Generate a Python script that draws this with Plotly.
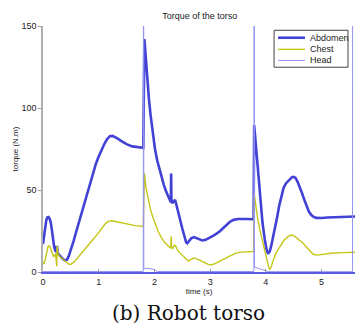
import plotly.graph_objects as go

# ---- data ----
abd_t = [0.0, 0.02, 0.04, 0.06, 0.08, 0.10, 0.12, 0.14, 0.16, 0.18, 0.20, 0.22, 0.24, 0.25, 0.26,
         0.28, 0.30, 0.33, 0.36, 0.40, 0.43, 0.46, 0.50, 0.55, 0.60, 0.70, 0.80, 0.90, 0.95,
         1.00, 1.05, 1.10, 1.15, 1.20, 1.25, 1.30, 1.35, 1.40, 1.50, 1.60, 1.70, 1.80,
         1.82, 1.84, 1.87, 1.90, 1.93, 1.97, 2.01, 2.05, 2.09, 2.13, 2.17, 2.21, 2.25, 2.28,
         2.295, 2.30, 2.305, 2.32, 2.35, 2.37, 2.39, 2.42, 2.46, 2.50, 2.54, 2.57, 2.59, 2.62,
         2.66, 2.71, 2.76, 2.81, 2.86, 2.92, 3.00, 3.09, 3.18, 3.27, 3.35, 3.42, 3.50, 3.65, 3.78,
         3.79, 3.81, 3.84, 3.87, 3.90, 3.94, 3.98, 4.01, 4.04, 4.07, 4.10, 4.13, 4.16, 4.20,
         4.24, 4.28, 4.32, 4.36, 4.40, 4.44, 4.47, 4.50, 4.53, 4.57, 4.61, 4.65, 4.69, 4.73,
         4.77, 4.81, 4.85, 4.90, 4.95, 5.00, 5.10, 5.25, 5.40, 5.60]
abd_v = [17, 23, 28.5, 31.8, 33.3, 33.5, 32.5, 30, 25.5, 20, 15.5, 13, 12.3, 16, 12,
         10.8, 10, 8.8, 7.8, 7, 7.5, 9.5, 13.5, 19, 25, 37, 49, 60.5, 66,
         70.5, 74.5, 78, 81, 82.8, 83, 82.3, 81.2, 80, 78, 76.6, 76, 75.8,
         142, 132, 118, 106, 96, 85, 75, 68, 62.5, 58, 53, 49, 45.5, 43.5,
         42.5, 60, 44, 42, 43, 44, 41.5, 38, 32, 26.5, 21, 18, 17.5, 19,
         20.5, 21.3, 20.6, 19.5, 19.2, 19.6, 21, 22.8, 25, 28, 30.5, 31.8, 32.3, 32.3, 32.2,
         89.6, 82, 68, 55, 43, 30, 20, 14, 11.1, 12.5, 16.5, 21, 26, 33,
         40.5, 47, 51.5, 54, 55.5, 56.5, 57.8, 58, 57.5, 55, 52, 48, 44, 40,
         37, 35, 33.8, 33, 32.8, 32.9, 33.2, 33.5, 33.7, 33.8]

chest_t = [0.0, 0.02, 0.04, 0.07, 0.09, 0.11, 0.13, 0.15, 0.17, 0.19, 0.21, 0.225, 0.24, 0.248,
           0.25, 0.255, 0.27, 0.30, 0.35, 0.40, 0.44, 0.47, 0.50, 0.55, 0.62, 0.70, 0.80, 0.90,
           1.00, 1.06, 1.12, 1.18, 1.24, 1.30, 1.40, 1.50, 1.65, 1.80,
           1.82, 1.85, 1.89, 1.93, 1.97, 2.01, 2.07, 2.13, 2.19, 2.25, 2.28, 2.295, 2.30, 2.31,
           2.33, 2.36, 2.38, 2.41, 2.46, 2.52, 2.57, 2.61, 2.65, 2.70, 2.75, 2.79, 2.85, 2.91,
           2.97, 3.03, 3.10, 3.21, 3.33, 3.45, 3.55, 3.65, 3.78,
           3.79, 3.82, 3.85, 3.89, 3.92, 3.96, 4.00, 4.04, 4.07, 4.10, 4.14, 4.18, 4.22, 4.27,
           4.33, 4.40, 4.46, 4.51, 4.57, 4.63, 4.67, 4.72, 4.78, 4.85, 4.92, 5.00, 5.17, 5.40, 5.60]
chest_v = [6, 5, 7.5, 13, 15.5, 16, 15, 13, 10.5, 9.2, 10.5, 10.8, 6, 3.5,
           16, 12, 10.5, 9.5, 8, 6.3, 5, 4.5, 4.7, 6, 8.5, 12, 16, 20,
           24, 27, 29.5, 31, 31.2, 30.8, 30, 29.3, 28.3, 27.7,
           60.2, 51, 44, 38, 33.5, 29.8, 24.5, 20.7, 17.8, 15.8, 14.8, 14.5, 21.7, 15,
           14.3, 16.3, 16, 13.6, 11.5, 9.5, 7.8, 6.7, 7.5, 8.5, 8.2, 7.5, 6.2, 5.2,
           4.6, 4.4, 5.2, 7.3, 9.6, 11.4, 12.1, 12.4, 12.5,
           48, 40, 33, 26, 21.7, 15, 9.5, 4.5, 1.4, 3.5, 8, 11.5, 13.6, 16.3,
           19.5, 21.7, 22.5, 22, 20.5, 18.8, 17.5, 15.5, 13, 10.8, 10.3, 10.6, 11.4, 11.8, 12]

head_t = [0.0, 1.80, 1.805, 1.81, 1.90, 2.00, 2.05, 3.785, 3.79, 3.795, 3.90, 4.05, 5.555, 5.56]
head_v = [0.3, 0.3, 400, 2.0, 2.2, 1.5, 0.3, 0.3, 400, 3.0, 1.8, 0.2, 0.2, 400]

series_names = ["Abdomen", "Chest", "Head"]
series_colors = ["#4141d6", "#c6c618", "#9494f2"]
series_widths = [2.6, 1.4, 1.0]

x_ticks = [0, 1, 2, 3, 4, 5]
y_ticks = [0, 50, 100, 150]

FONT = "Liberation Sans, Arial, sans-serif"

fig = go.Figure()
for (t, v), name, col, w in zip([(abd_t, abd_v), (chest_t, chest_v), (head_t, head_v)],
                                series_names, series_colors, series_widths):
    fig.add_trace(go.Scatter(x=t, y=v, mode="lines", name=name, showlegend=False,
                             line=dict(color=col, width=w)))

fig.update_layout(
    width=355, height=327,
    margin=dict(l=43, r=0, t=26, b=55),
    plot_bgcolor="white", paper_bgcolor="white",
    font=dict(family=FONT, size=9, color="#222"),
    title=dict(text="Torque of the torso", x=0.5625, xanchor="center", y=0.953, yanchor="middle",
               font=dict(size=9, family=FONT, color="#222")),
    showlegend=False,
    xaxis=dict(range=[0, 5.6], tickvals=x_ticks, ticks="inside", ticklen=3,
               tickcolor="#999", showgrid=False, zeroline=False,
               showline=True, linecolor="#5a5ae2", linewidth=1.6,
               title=dict(text="time (s)", font=dict(size=8, family=FONT), standoff=2),
               tickfont=dict(size=9)),
    yaxis=dict(range=[0, 150], tickvals=y_ticks, ticks="outside", ticklen=3,
               tickcolor="#999", showgrid=False, zeroline=False,
               showline=True, linecolor="#b0b0b0", linewidth=1.5,
               title=dict(text="torque (N.m)", font=dict(size=8, family=FONT), standoff=2),
               tickfont=dict(size=9)),
)

# compact MATLAB-style legend box (paper coordinates)
lx0, lx1, ly0, ly1 = 0.7406, 0.9776, 0.8325, 0.9826
fig.add_shape(type="rect", xref="paper", yref="paper", x0=lx0, x1=lx1, y0=ly0, y1=ly1,
              line=dict(color="#444", width=1), fillcolor="white", layer="above")
row_y = [0.9523, 0.9050, 0.8600]
for name, col, w, ry in zip(series_names, series_colors, series_widths, row_y):
    fig.add_shape(type="line", xref="paper", yref="paper", x0=0.7533, x1=0.8398, y0=ry, y1=ry,
                  line=dict(color=col, width=w), layer="above")
    fig.add_annotation(text=name, xref="paper", yref="paper", x=0.8480, y=ry,
                       xanchor="left", yanchor="middle", showarrow=False,
                       font=dict(size=9, family=FONT, color="#222"))

fig.add_annotation(text="(b) Robot torso", xref="paper", yref="paper",
                   x=0.465, y=-0.168, xanchor="center", yanchor="middle", showarrow=False,
                   font=dict(family="DejaVu Serif, Liberation Serif, serif", size=20, color="#111"))

fig.write_html("out.html")
